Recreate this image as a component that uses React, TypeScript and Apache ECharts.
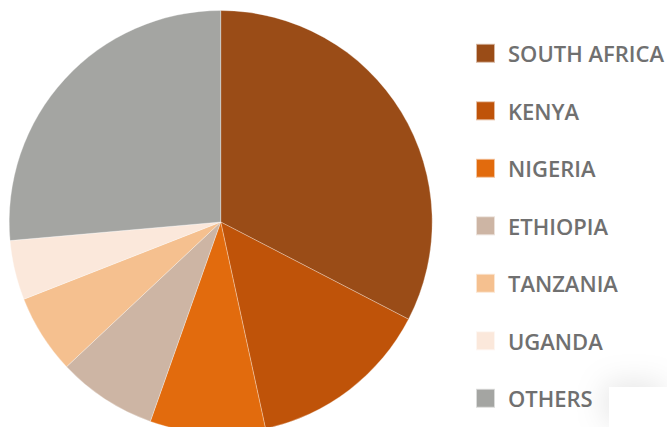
import React, { useEffect, useRef } from "react";
import * as echarts from "echarts";

const categories = ["SOUTH AFRICA", "KENYA", "NIGERIA", "ETHIOPIA", "TANZANIA", "UGANDA", "OTHERS"];
const values = [32.6, 14.0, 8.8, 7.6, 6.05, 4.55, 26.4];
const colors = ["#9A4C17", "#BF5309", "#E26B0D", "#CDB5A4", "#F5C08F", "#FBE8DB", "#A4A5A2"];

export default function App() {
  const ref = useRef<HTMLDivElement>(null);
  useEffect(() => {
    document.body.style.margin = "0";
    const chart = echarts.init(ref.current!, null, { renderer: "svg" });
    chart.setOption({
      animation: false,
      backgroundColor: "#ffffff",
      legend: {
        orient: "vertical",
        left: 475,
        top: 42.3,
        padding: 0,
        itemWidth: 19,
        itemHeight: 19,
        itemGap: 35.5,
        icon: "rect",
        selectedMode: false,
        data: categories,
        textStyle: {
          fontFamily: "Open Sans",
          fontWeight: 600,
          fontSize: 22,
          color: "#707070",
          padding: [0, 0, 0, 8],
        },
      },
      graphic: [
        {
          type: "rect",
          right: 0,
          bottom: 0,
          shape: { width: 58, height: 40 },
          style: { fill: "#ffffff", shadowBlur: 30, shadowColor: "rgba(0,0,0,0.10)", shadowOffsetX: -4, shadowOffsetY: -4 },
          z: 100,
        },
      ],
      series: [
        {
          type: "pie",
          center: [220.7, 222],
          radius: [0, 211.5],
          startAngle: 90,
          clockwise: true,
          label: { show: false },
          labelLine: { show: false },
          emphasis: { disabled: true },
          itemStyle: { borderWidth: 0.5, borderColor: "rgba(255,255,255,0.6)" },
          data: categories.map((name, i) => ({
            name,
            value: values[i],
            itemStyle: { color: colors[i] },
          })),
        },
      ],
    });
    return () => chart.dispose();
  }, []);
  return <div ref={ref} style={{ width: 667, height: 427 }} />;
}
